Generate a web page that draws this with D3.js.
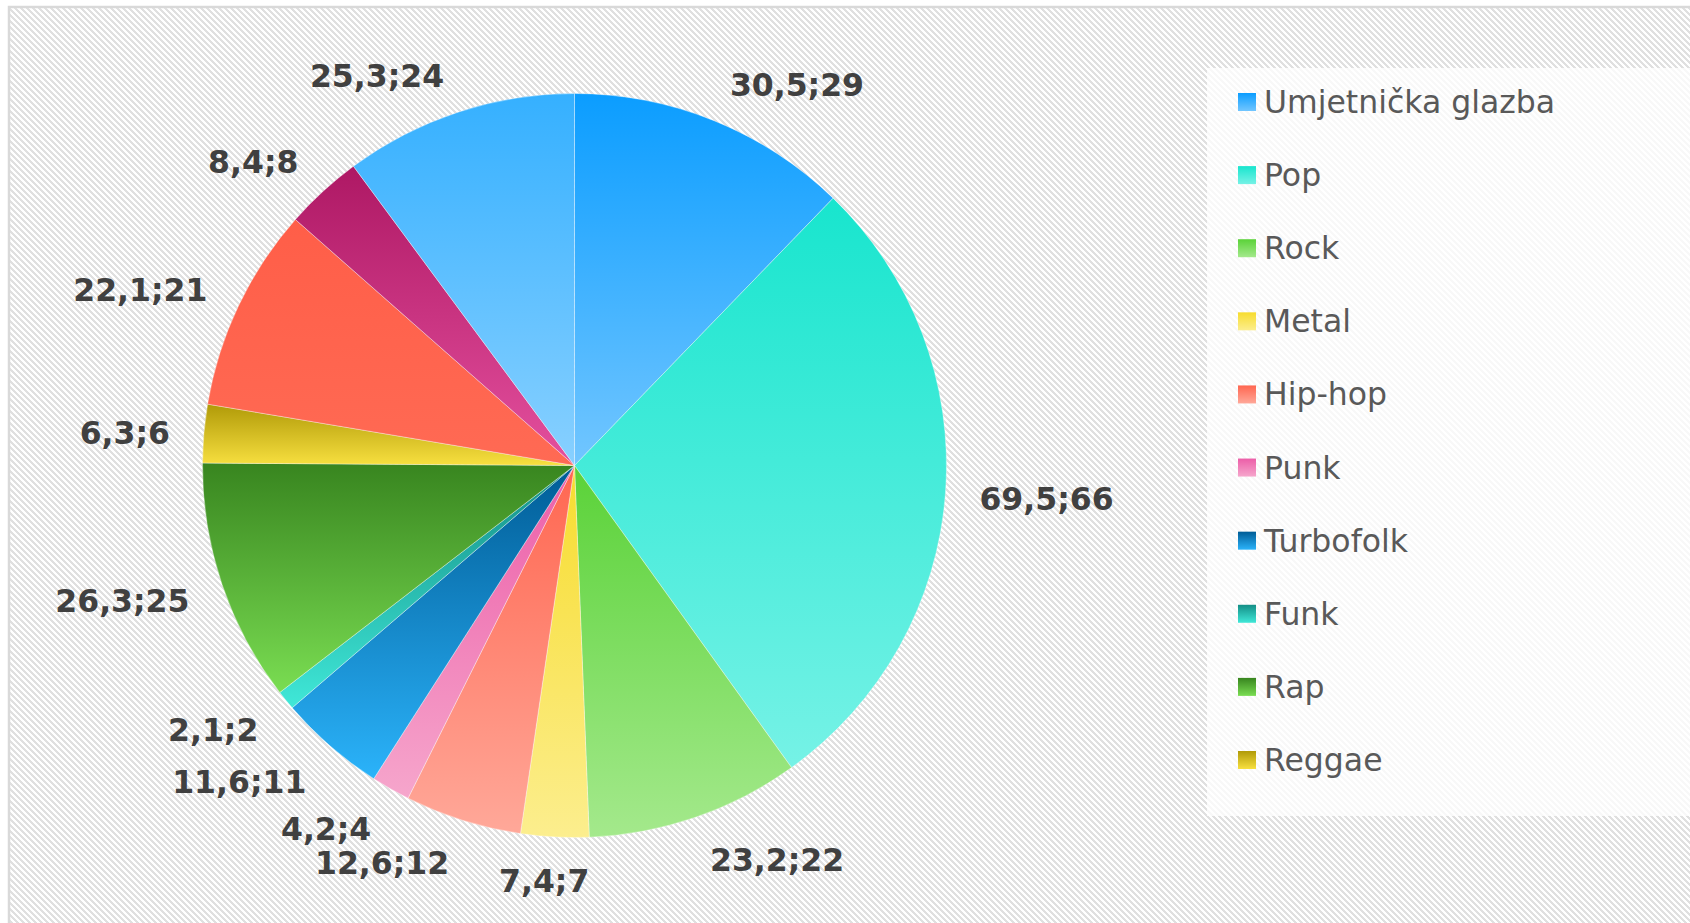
<!DOCTYPE html>
<html>
<head>
<meta charset="utf-8">
<script src="https://cdn.jsdelivr.net/npm/d3@7"></script>
<style>
  html, body { margin: 0; padding: 0; background: #ffffff; overflow: hidden; }
  svg { display: block; }
</style>
</head>
<body>
<svg id="chart" width="1690" height="923"></svg>
<script>
// Genres shown in the legend
const legendNames = ["Umjetnička glazba", "Pop", "Rock", "Metal", "Hip-hop",
                     "Punk", "Turbofolk", "Funk", "Rap", "Reggae"];

// Per-slice values: first number of each label (share) and second (count)
const shareValues = [30.5, 69.5, 23.2, 7.4, 12.6, 4.2, 11.6, 2.1, 26.3, 6.3, 22.1, 8.4, 25.3];
const countValues = [29, 66, 22, 7, 12, 4, 11, 2, 25, 6, 21, 8, 24];

// Vertical gradient fills per slice (top stop, bottom stop)
const paletteTop = ["#0B9DFF", "#18E5CE", "#5AD238", "#F7DC2E", "#FF6650", "#EC5EA8",
                    "#005C96", "#138E86", "#38851F", "#B09A08", "#FF5E48", "#AE1864", "#35B0FF"];
const paletteBottom = ["#72C6FF", "#76F2E6", "#A4E98C", "#FCEE8E", "#FFA899", "#F6A6CC",
                       "#2BB3FA", "#40E8D8", "#7ADD52", "#F8E040", "#FF6A54", "#E4509E", "#88D0FF"];

const W = 1690, H = 923;
const cx = 574.5, cy = 465.5, radius = 372;

const svg = d3.select("#chart");
const defs = svg.append("defs");

// Pixel-stepped downward diagonal hatch for the chart background
const tile = 6;
const hatch = defs.append("pattern")
  .attr("id", "hatch")
  .attr("patternUnits", "userSpaceOnUse")
  .attr("width", tile).attr("height", tile);
hatch.append("rect").attr("width", tile).attr("height", tile).attr("fill", "#ffffff");
const cells = [];
for (let row = 0; row < tile; row++) {
  for (let k = 0; k < 3; k++) cells.push({ x: (row + k) % tile, y: row });
}
hatch.selectAll("rect.px")
  .data(cells)
  .join("rect")
  .attr("class", "px")
  .attr("x", d => d.x).attr("y", d => d.y)
  .attr("width", 1).attr("height", 1)
  .attr("shape-rendering", "crispEdges")
  .attr("fill", "#E0E0E0");

// Gradients
paletteTop.forEach((top, i) => {
  const g = defs.append("linearGradient")
    .attr("id", "grad" + i)
    .attr("x1", 0).attr("y1", 0).attr("x2", 0).attr("y2", 1);
  g.append("stop").attr("offset", "0%").attr("stop-color", top);
  g.append("stop").attr("offset", "100%").attr("stop-color", paletteBottom[i]);
});

// Chart area with border
svg.append("rect")
  .attr("x", 9).attr("y", 7)
  .attr("width", W).attr("height", H)
  .attr("fill", "url(#hatch)")
  .attr("stroke", "#D9D9D9")
  .attr("stroke-width", 2.5);

// Legend panel (light veil over the hatch)
svg.append("rect")
  .attr("x", 1207).attr("y", 68)
  .attr("width", W - 1207).attr("height", 816 - 68)
  .attr("fill", "#ffffff")
  .attr("fill-opacity", 0.78);

// Pie
const pie = d3.pie().sort(null).value(d => d.count);
const arc = d3.arc().innerRadius(0).outerRadius(radius);

const slices = countValues.map((c, i) => ({ count: c, share: shareValues[i], idx: i }));
const arcs = pie(slices);

const gPie = svg.append("g").attr("transform", `translate(${cx},${cy})`);
gPie.selectAll("path.slice")
  .data(arcs)
  .join("path")
  .attr("class", "slice")
  .attr("d", arc)
  .attr("fill", d => `url(#grad${d.data.idx})`)
  .attr("stroke", "#ffffff")
  .attr("stroke-opacity", 0.45)
  .attr("stroke-width", 0.8);

// Data labels "share;count" placed outside the slices
const fmt = v => String(v).replace(".", ",");
const labelR = radius + 29;
const clamp = v => Math.max(-1, Math.min(1, v));

svg.append("g").selectAll("text")
  .data(arcs)
  .join("text")
  .attr("text-anchor", "middle")
  .attr("font-family", "'DejaVu Sans', Verdana, sans-serif")
  .attr("font-weight", "bold")
  .attr("font-size", 31.5)
  .attr("fill", "#404040")
  .text(d => `${fmt(d.data.share)};${fmt(d.data.count)}`)
  .each(function (d) {
    const a = (d.startAngle + d.endAngle) / 2;
    const s = Math.sin(a), c = Math.cos(a);
    const w = this.getComputedTextLength();
    const px = cx + labelR * s, py = cy - labelR * c;
    const x = px + (w / 2 + 5) * clamp(3.4 * s);
    const yMid = py - 12 * clamp(1.2 * c) + 2.5;
    d3.select(this).attr("x", x).attr("y", yMid + 11.4);
  });

// Legend
const legendY = d3.scaleLinear().domain([0, legendNames.length - 1]).range([102, 760]);
const gLeg = svg.append("g");
const items = gLeg.selectAll("g.item")
  .data(legendNames)
  .join("g")
  .attr("class", "item")
  .attr("transform", (d, i) => `translate(1238,${legendY(i)})`);

items.append("rect")
  .attr("x", 0).attr("y", -9)
  .attr("width", 18).attr("height", 18)
  .attr("fill", (d, i) => `url(#grad${i})`);

items.append("text")
  .attr("x", 26).attr("y", 11)
  .attr("font-family", "'DejaVu Sans', Verdana, sans-serif")
  .attr("font-size", 31.5)
  .attr("fill", "#595959")
  .text(d => d);
</script>
</body>
</html>
